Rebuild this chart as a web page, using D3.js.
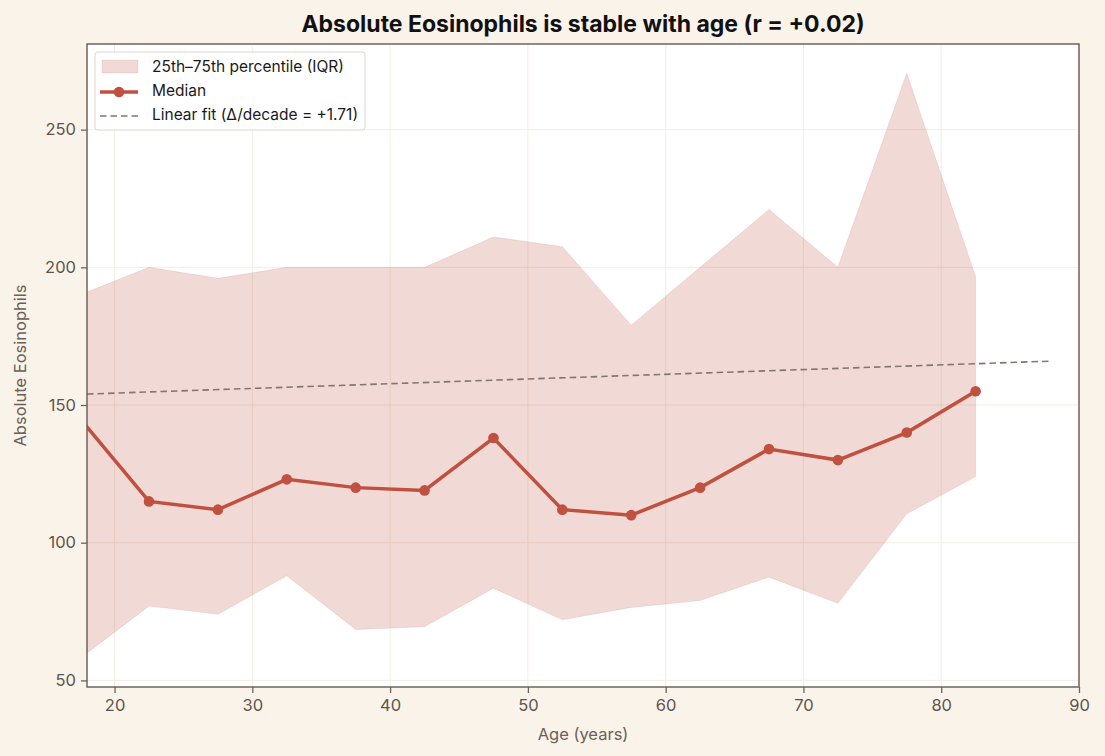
<!DOCTYPE html>
<html>
<head>
<meta charset="utf-8">
<script src="https://cdn.jsdelivr.net/npm/d3@7"></script>
<style>
  body { margin: 0; background: #faf3ea; }
  svg { display: block; font-family: Inter, "Noto Sans", sans-serif; }
</style>
</head>
<body>
<svg id="svg" width="1105" height="756"></svg>
<script>
// age bin centres (years)
var ages = [17.5, 22.5, 27.5, 32.5, 37.5, 42.5, 47.5, 52.5, 57.5, 62.5, 67.5, 72.5, 77.5, 82.5];
var median = [145, 115, 112, 123, 120, 119, 138, 112, 110, 120, 134, 130, 140, 155];
var q25 = [58, 77, 74, 88, 68.5, 69.5, 83.5, 72, 76.5, 79, 87.5, 78, 110.5, 124];
var q75 = [190, 200, 196, 200, 200, 200, 211, 207.5, 179, 200, 221, 200, 270.5, 196.5];
// linear fit over the raw age range
var fitAges = [18, 88];
var fitIntercept = 150.9, fitSlope = 0.171;
var xTicks = [20, 30, 40, 50, 60, 70, 80, 90];
var yTicks = [50, 100, 150, 200, 250];

function init(){
    var svg = d3.select("#svg");
    var left = 87, right = 1079, top = 44, bottom = 687;

    var x = d3.scaleLinear().domain([18, 90]).range([left, right]);
    var y = d3.scaleLinear().domain([47.6, 281.1]).range([bottom, top]);

    svg.append("defs").append("clipPath").attr("id", "clip")
      .append("rect").attr("x", left).attr("y", top)
      .attr("width", right - left).attr("height", bottom - top);

    svg.append("rect").attr("x", left).attr("y", top)
      .attr("width", right - left).attr("height", bottom - top)
      .style("fill", "#ffffff");

    // grid
    svg.append("g").selectAll("line").data(xTicks).enter().append("line")
      .attr("x1", function(d){return x(d)}).attr("x2", function(d){return x(d)})
      .attr("y1", top).attr("y2", bottom)
      .style("stroke", "#f3ede4").style("stroke-width", 1);
    svg.append("g").selectAll("line").data(yTicks).enter().append("line")
      .attr("y1", function(d){return y(d)}).attr("y2", function(d){return y(d)})
      .attr("x1", left).attr("x2", right)
      .style("stroke", "#f3ede4").style("stroke-width", 1);

    var plot = svg.append("g").attr("clip-path", "url(#clip)");

    var area = d3.area()
      .x(function(d, i){return x(ages[i])})
      .y0(function(d, i){return y(q25[i])})
      .y1(function(d, i){return y(q75[i])});
    plot.append("path").datum(ages).attr("d", area)
      .style("fill", "#c0503f").style("fill-opacity", 0.22)
      .style("stroke", "#c0503f").style("stroke-opacity", 0.12);

    var fitLine = d3.line()
      .x(function(d){return x(d)})
      .y(function(d){return y(fitIntercept + fitSlope * d)});
    plot.append("path").datum(fitAges).attr("d", fitLine)
      .style("fill", "none").style("stroke", "#857570")
      .style("stroke-width", 1.6).style("stroke-dasharray", "6.5,4");

    var medLine = d3.line()
      .x(function(d, i){return x(ages[i])})
      .y(function(d){return y(d)});
    plot.append("path").datum(median).attr("d", medLine)
      .style("fill", "none").style("stroke", "#c0503f").style("stroke-width", 3.5);
    plot.selectAll("circle").data(median).enter().append("circle")
      .attr("cx", function(d, i){return x(ages[i])})
      .attr("cy", function(d){return y(d)})
      .attr("r", 5.3).style("fill", "#c0503f");

    // axes
    var xAxis = d3.axisBottom(x).tickValues(xTicks).tickSize(6).tickPadding(6);
    var yAxis = d3.axisLeft(y).tickValues(yTicks).tickSize(6).tickPadding(5);
    var gx = svg.append("g").attr("transform", "translate(0," + bottom + ")").call(xAxis);
    var gy = svg.append("g").attr("transform", "translate(" + left + ",0)").call(yAxis);
    [gx, gy].forEach(function(g){
        g.select(".domain").remove();
        g.selectAll("line").style("stroke", "#6e645e").style("stroke-width", 1.3);
        g.selectAll("text").style("fill", "#5e534d").style("font-size", "16.5px")
          .style("font-family", "Inter, sans-serif");
    });

    // spines
    svg.append("rect").attr("x", left).attr("y", top)
      .attr("width", right - left).attr("height", bottom - top)
      .style("fill", "none").style("stroke", "#6e645e").style("stroke-width", 1.5);

    // labels
    svg.append("text").text("Age (years)")
      .attr("x", (left + right) / 2).attr("y", 740).attr("text-anchor", "middle")
      .style("font-size", "16.5px").style("fill", "#6b5f58");
    svg.append("text").text("Absolute Eosinophils")
      .attr("transform", "translate(26," + ((top + bottom) / 2) + ") rotate(-90)")
      .attr("text-anchor", "middle")
      .style("font-size", "16.5px").style("fill", "#6b5f58");
    svg.append("text").text("Absolute Eosinophils is stable with age (r = +0.02)")
      .attr("x", (left + right) / 2).attr("y", 32).attr("text-anchor", "middle")
      .style("font-size", "23px").style("font-weight", "bold").style("fill", "#111");

    // legend
    var lg = svg.append("g").attr("transform", "translate(95,52)");
    lg.append("rect").attr("width", 270).attr("height", 78).attr("rx", 3)
      .style("fill", "#ffffff").style("fill-opacity", 0.9)
      .style("stroke", "#dcd7d2").style("stroke-width", 1);
    lg.append("rect").attr("x", 7).attr("y", 8).attr("width", 36).attr("height", 13)
      .style("fill", "#c0503f").style("fill-opacity", 0.22)
      .style("stroke", "#c0503f").style("stroke-opacity", 0.12);
    lg.append("line").attr("x1", 5).attr("x2", 43).attr("y1", 40).attr("y2", 40)
      .style("stroke", "#c0503f").style("stroke-width", 3.5);
    lg.append("circle").attr("cx", 24).attr("cy", 40).attr("r", 5.3).style("fill", "#c0503f");
    lg.append("line").attr("x1", 5).attr("x2", 43).attr("y1", 64).attr("y2", 64)
      .style("stroke", "#857570").style("stroke-width", 1.6).style("stroke-dasharray", "6.5,4");
    var labels = ["25th\u201375th percentile (IQR)", "Median", "Linear fit (\u0394/decade = +1.71)"];
    lg.selectAll("text.lab").data(labels).enter().append("text")
      .attr("x", 57).attr("y", function(d, i){return 20 + 24 * i})
      .text(function(d){return d})
      .style("font-size", "15.5px").style("fill", "#1a1a1a");
}
init();
</script>
</body>
</html>
